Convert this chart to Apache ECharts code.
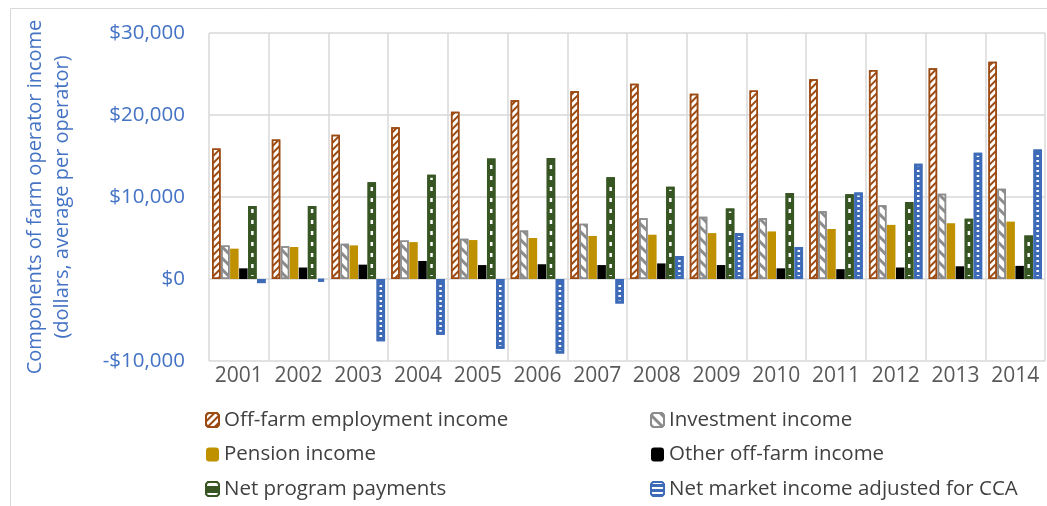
<!DOCTYPE html>
<html><head><meta charset="utf-8">
<script src="https://cdn.jsdelivr.net/npm/echarts@6/dist/echarts.min.js"></script>
<style>html,body{margin:0;padding:0;background:#fff}#c{width:1047px;height:506px}</style>
</head><body><div id="c"></div>
<script>
var years = ['2001','2002','2003','2004','2005','2006','2007','2008','2009','2010','2011','2012','2013','2014'];
var offFarm    = [15900,17000,17600,18500,20400,21800,22900,23800,22600,23000,24350,25500,25700,26500];
var investment = [4100,4000,4300,4700,4900,5900,6750,7400,7600,7400,8250,9000,10400,11000];
var pension    = [3700,3900,4100,4500,4750,5000,5250,5400,5600,5800,6100,6600,6800,7000];
var otherOff   = [1300,1400,1750,2200,1700,1800,1700,1900,1700,1300,1200,1400,1550,1600];
var program    = [8900,8900,11800,12700,14700,14750,12400,11250,8600,10500,10350,9400,7350,5300];
var market     = [-500,-300,-7600,-6800,-8500,-9100,-3000,2800,5600,3900,10550,14050,15400,15800];
var yTicks = [-10000,0,10000,20000,30000];
var names = ['Off-farm employment income','Investment income','Pension income','Other off-farm income','Net program payments','Net market income adjusted for CCA'];

function fmt(v){ var s = '$' + Math.abs(v).toLocaleString('en-US'); return v<0 ? '-' + s : s; }

var chart = echarts.init(document.getElementById('c'), null, {renderer:'canvas'});
var font = 'Open Sans';
var base = {type:'bar', barWidth:8.5, barGap:'6%', animation:false};
var series = [
  Object.assign({}, base, {name:names[0], data:offFarm,
    itemStyle:{color:'#ffffff', borderColor:'#9C4A12', borderWidth:1.5,
      decal:{symbol:'rect', symbolSize:1, color:'#9C4A12', dashArrayX:[1,0], dashArrayY:[1.5,2.2], rotation:-Math.PI/4}}}),
  Object.assign({}, base, {name:names[1], data:investment,
    itemStyle:{color:'#ffffff', borderColor:'#8c8c8c', borderWidth:1.5,
      decal:{symbol:'rect', symbolSize:1, color:'#8c8c8c', dashArrayX:[1,0], dashArrayY:[2.5,5], rotation:Math.PI/4}}}),
  Object.assign({}, base, {name:names[2], data:pension, itemStyle:{color:'#BF9000'}}),
  Object.assign({}, base, {name:names[3], data:otherOff, itemStyle:{color:'#000000'}}),
  Object.assign({}, base, {name:names[4], data:program,
    itemStyle:{color:'#375623', borderColor:'#375623', borderWidth:3,
      decal:{symbol:'rect', symbolSize:1, color:'#ffffff', dashArrayX:[1,0], dashArrayY:[4,7]}}}),
  Object.assign({}, base, {name:names[5], data:market,
    itemStyle:{color:'#3E6BB8', borderColor:'#3E6BB8', borderWidth:3,
      decal:{symbol:'rect', symbolSize:1, color:'#ffffff', dashArrayX:[1,0], dashArrayY:[1.5,2.5]}}})
];

var legendText = {fontFamily:font, fontSize:20.5, color:'#404040', lineHeight:24};
chart.setOption({
  animation:false,
  textStyle:{fontFamily:font},
  graphic:[{type:'rect', shape:{x:10.5, y:8.5, width:1045, height:520}, style:{fill:null, stroke:'#d9d9d9', lineWidth:1}, silent:true}],
  grid:{left:209, right:2, top:33, bottom:145, containLabel:false},
  legend:[
    {left:205, top:408, orient:'vertical', itemGap:10.5, itemWidth:13, itemHeight:14, padding:[0,0,0,0], textStyle:legendText,
     data:[names[0], names[2], names[4]]},
    {left:650, top:408, orient:'vertical', itemGap:10.5, itemWidth:13, itemHeight:14, padding:[0,0,0,0], textStyle:legendText,
     data:[names[1], names[3], names[5]]}
  ],
  xAxis:{type:'category', data:years, boundaryGap:true,
    axisLine:{show:false, onZero:false}, axisTick:{show:false},
    splitLine:{show:true, interval:0, lineStyle:{color:'#d9d9d9', width:1.5}},
    axisLabel:{interval:0, color:'#595959', fontSize:21, fontFamily:font, margin:5}},
  yAxis:{type:'value', min:yTicks[0], max:yTicks[yTicks.length-1], interval:10000,
    axisLine:{show:false}, axisTick:{show:false},
    splitLine:{show:true, lineStyle:{color:'#d9d9d9', width:1.5}},
    axisLabel:{color:'#4472C4', fontSize:20.5, fontFamily:font, margin:24, formatter:fmt},
    name:'Components of farm operator income\n(dollars, average per operator)',
    nameLocation:'middle', nameGap:133, nameRotate:90,
    nameTextStyle:{color:'#4472C4', fontSize:20, fontFamily:font, lineHeight:27, align:'center'}},
  series:series
});
</script></body></html>
